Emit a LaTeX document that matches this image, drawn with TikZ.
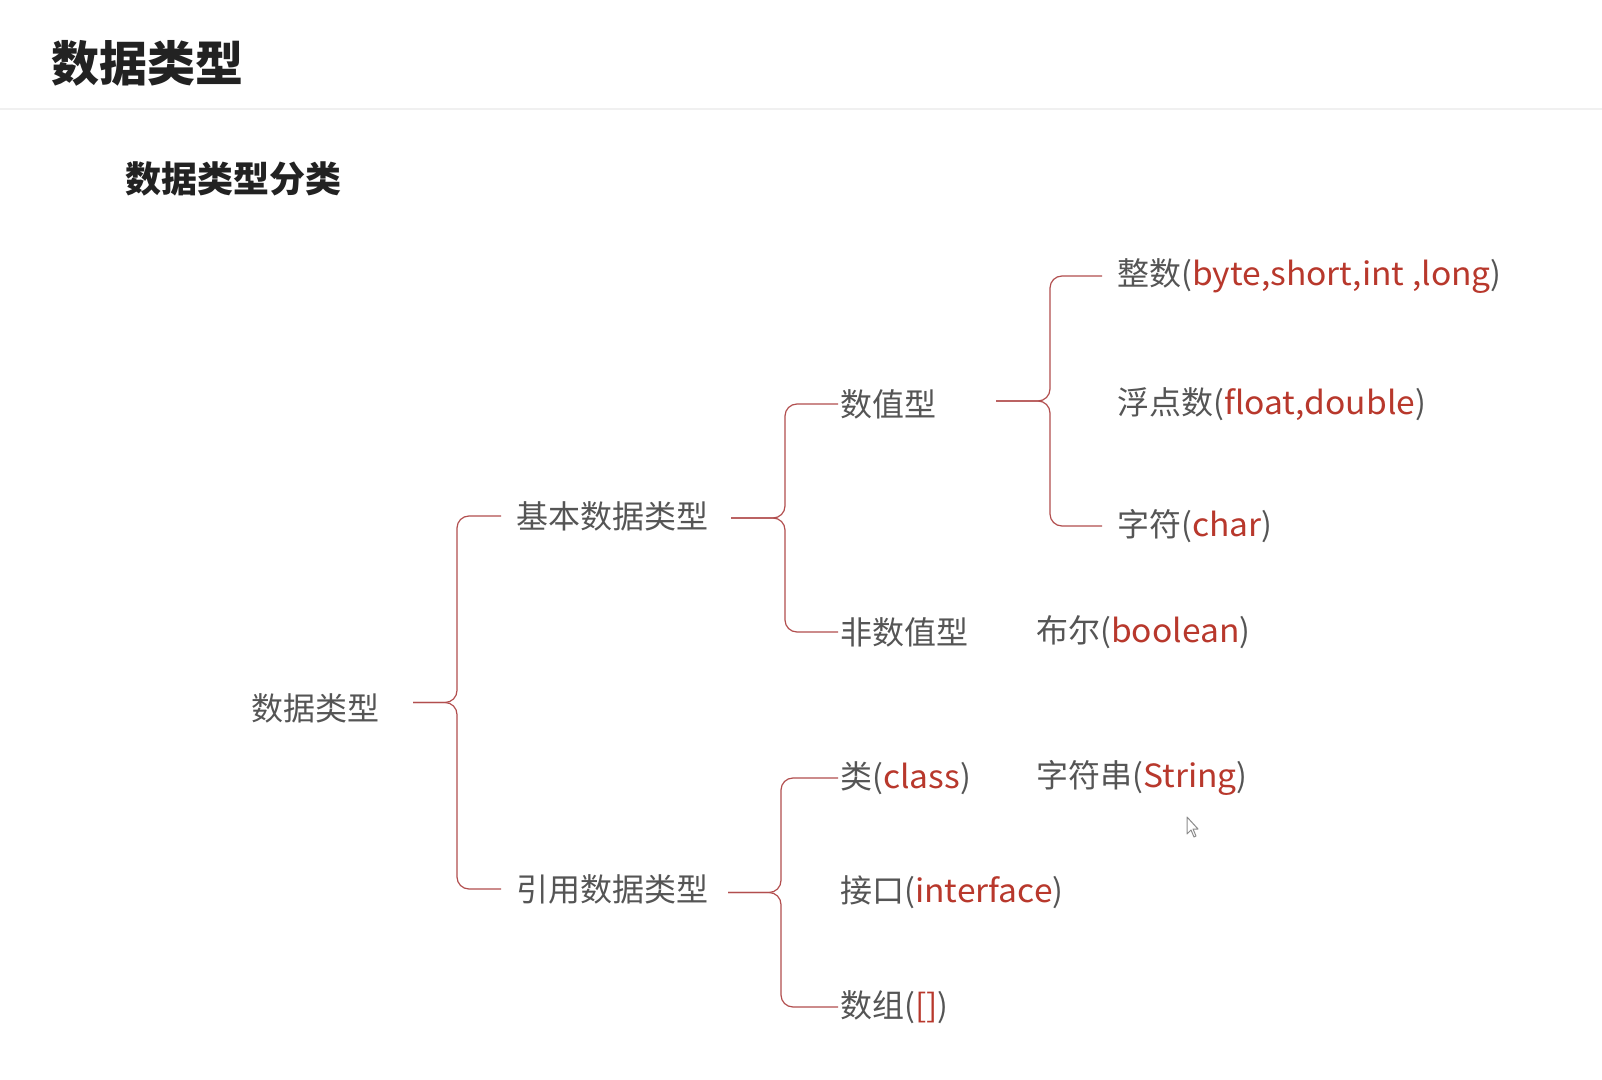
\documentclass[tikz,border=0pt]{standalone}
\usepackage{fontspec}
\setmainfont{Noto Sans CJK SC}
\newfontfamily\latinwide[FakeStretch=1.05]{Noto Sans CJK SC}
\usepackage{xcolor}
\usetikzlibrary{calc}
\definecolor{textgray}{RGB}{85,85,85}
\definecolor{titleblack}{RGB}{34,34,34}
\definecolor{codered}{RGB}{184,56,44}
\definecolor{bracered}{RGB}{178,78,78}
\tikzset{type node/.style={anchor=west,inner ysep=0pt,inner xsep=1pt,text=textgray,font=\fontsize{16}{19}\selectfont}}
\tikzset{spaced/.style={inner xsep=7.5pt}}
\tikzset{brace line/.style={draw=bracered,line width=0.6pt,rounded corners=6pt}}
\newcommand{\kw}[1]{{\latinwide\textcolor{codered}{#1}}}
\newcommand{\bracejoin}[4]{%
	\coordinate (tip) at ($(#1.west)!0.5!(#2.west)$);
	\draw[brace line] (#1.west) -- (#3 |- #1.west) -- (#3 |- tip) -- ++(-#4,0);
	\draw[brace line] ($(#3 |- tip)+(-#4,0)$) -- (#3 |- tip) -- (#3 |- #2.west) -- (#2.west);
}

\begin{document}
\begin{tikzpicture}[x=0.5pt,y=-0.5pt]
	\fill[white] (0,0) rectangle (1602,1080);
	\useasboundingbox (0,0) rectangle (1602,1080);
	
	\node[anchor=west,inner sep=0pt,text=titleblack,font=\fontsize{24}{28}\selectfont\bfseries] (title) at (51,63) {数据类型};
	\draw[draw=black!6,line width=0.75pt] (0,109) -- (1602,109);
	\node[anchor=west,inner sep=0pt,text=titleblack,font=\fontsize{18}{22}\selectfont\bfseries] (subtitle) at (125,179) {数据类型分类};
	
	\node[type node] (root) at (249,708) {数据类型};
	\node[type node,spaced] (basic) at (501,516) {基本数据类型};
	\node[type node,spaced] (ref) at (501,889) {引用数据类型};
	
	\node[type node] (num) at (838,404) {数值型};
	\node[type node] (nonnum) at (838,632) {非数值型};
	\node[type node] (bool) at (1034,632) {布尔(\kw{boolean})};
	
	\node[type node,spaced] (int) at (1102,276) {整数(\kw{byte,short,int ,long})};
	\node[type node,spaced] (float) at (1102,404) {浮点数(\kw{float,double})};
	\node[type node,spaced] (char) at (1102,526) {字符(\kw{char})};
	
	\node[type node] (class) at (838,778) {类(\kw{class})};
	\node[type node] (string) at (1034,778) {字符串(\kw{String})};
	\node[type node] (iface) at (838,892) {接口(\kw{interface})};
	\node[type node] (array) at (838,1007) {数组(\kw{[]})};
	
	\coordinate (s1) at (457,0);
	\coordinate (s2) at (785,0);
	\coordinate (s3) at (1050,0);
	\coordinate (s4) at (781,0);
	
	\bracejoin{basic}{ref}{s1}{44}
	\bracejoin{num}{nonnum}{s2}{54}
	\bracejoin{int}{char}{s3}{54}
	\bracejoin{class}{array}{s4}{53}
	
	\draw[draw=black!45,fill=white,line width=0.5pt,line join=round] (1187,817) -- ++(0,17) -- ++(4,-4) -- ++(3,7) -- ++(2,-1) -- ++(-3,-7) -- ++(5,0) -- cycle;
\end{tikzpicture}
\end{document}
